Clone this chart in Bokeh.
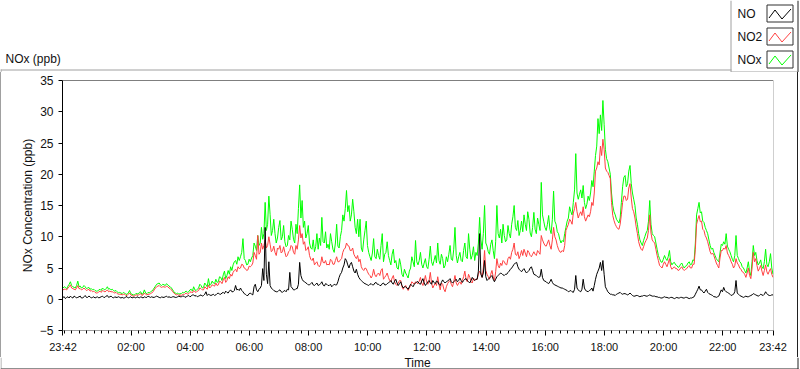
from bokeh.plotting import figure
from bokeh.models import Range1d, FixedTicker, Span, Spacer
from bokeh.layouts import column, row
from bokeh.core.properties import value
from bokeh.embed import file_html
from bokeh.resources import INLINE

# samples every 2.5 minutes after 23:42
minutes = [i * 2.5 for i in range(577)]

nox = [
    1.8, 2.0, 1.9, 1.7, 2.1, 2.4, 2.8, 2.2, 2.0, 1.9, 1.8, 2.2, 2.9, 2.0, 2.1, 1.8, 1.9, 2.2, 2.0, 1.7, 1.8, 1.9, 1.6, 1.7,
    1.5, 1.6, 1.4, 1.3, 1.3, 1.5, 1.6, 1.4, 1.8, 1.6, 1.5, 1.7, 2.0, 1.6, 1.7, 1.5, 1.6, 1.4, 1.3, 1.4, 1.2, 1.0, 1.1, 1.0,
    0.9, 1.1, 1.0, 0.8, 0.8, 1.0, 1.4, 0.9, 0.8, 0.7, 0.7, 0.9, 0.9, 0.8, 1.1, 1.2, 0.8, 0.9, 1.5, 1.0, 0.9, 1.1, 1.0, 1.2,
    1.3, 1.5, 1.8, 2.1, 2.4, 2.5, 2.6, 2.3, 2.2, 2.4, 2.3, 2.2, 2.5, 2.3, 2.1, 2.0, 1.8, 1.5, 1.2, 1.0, 0.9, 1.0, 0.8, 0.9,
    0.9, 1.1, 1.0, 1.2, 1.3, 1.1, 1.2, 1.5, 1.6, 1.3, 2.0, 1.5, 1.4, 1.6, 1.8, 2.4, 2.2, 1.8, 1.9, 2.6, 2.3, 2.0, 3.3, 2.2,
    2.4, 2.9, 2.6, 2.5, 3.2, 2.7, 2.8, 3.6, 3.5, 3.0, 3.9, 4.5, 3.3, 3.8, 4.6, 4.0, 5.2, 4.6, 5.5, 6.0, 6.2, 5.6, 6.8, 6.2,
    6.8, 7.5, 9.7, 6.5, 6.2, 5.5, 5.6, 6.4, 6.0, 6.6, 7.0, 9.0, 8.5, 7.8, 10.2, 8.6, 9.0, 11.5, 9.6, 10.5, 15.5, 11.0, 12.0, 16.5,
    13.6, 10.2, 11.0, 12.8, 10.5, 9.0, 9.8, 11.5, 12.6, 9.5, 10.0, 11.8, 9.2, 8.4, 8.6, 10.2, 9.5, 12.5, 11.2, 9.6, 9.0, 12.0, 10.5, 14.5,
    18.3, 13.0, 15.8, 11.5, 12.5, 9.8, 10.5, 11.8, 9.0, 8.2, 8.0, 9.5, 7.6, 8.4, 10.5, 8.0, 9.8, 8.6, 13.1, 9.2, 9.0, 10.8, 8.2, 8.8,
    8.0, 10.5, 9.2, 8.0, 7.5, 9.0, 12.0, 8.5, 8.2, 10.0, 11.0, 13.5, 12.5, 14.5, 17.4, 14.0, 15.0, 12.5, 13.5, 16.0, 14.0, 11.5, 10.5, 12.8,
    10.0, 12.8, 8.2, 7.6, 9.5, 11.0, 12.5, 8.6, 7.5, 6.8, 6.2, 7.4, 9.7, 6.8, 6.5, 8.0, 7.0, 6.4, 8.6, 10.5, 6.0, 7.2, 7.5, 9.2,
    7.0, 6.2, 5.5, 7.2, 8.0, 5.8, 6.2, 5.0, 4.8, 6.5, 5.5, 4.0, 3.6, 4.8, 4.2, 3.8, 3.4, 4.5, 5.0, 6.8, 6.0, 5.2, 9.4, 6.0,
    5.5, 6.2, 7.5, 5.6, 5.0, 5.8, 6.5, 5.2, 4.9, 6.4, 8.5, 6.0, 5.4, 6.2, 7.0, 5.8, 9.0, 6.2, 5.6, 7.2, 6.5, 5.0, 5.4, 6.8,
    6.0, 7.2, 8.6, 6.4, 6.2, 8.0, 11.5, 7.0, 5.8, 6.8, 7.5, 6.2, 6.0, 7.8, 9.0, 6.8, 6.5, 10.5, 8.0, 6.4, 7.0, 8.4, 6.2, 7.5,
    7.0, 9.0, 13.1, 9.5, 8.0, 10.5, 15.0, 9.0, 8.5, 7.6, 7.2, 8.8, 9.5, 7.8, 6.5, 9.2, 15.0, 10.5, 9.8, 11.2, 9.0, 12.0, 10.2, 9.2,
    9.5, 11.8, 10.5, 9.8, 12.0, 13.2, 15.0, 11.5, 11.0, 12.6, 10.2, 11.0, 12.5, 10.8, 13.5, 12.0, 11.0, 14.0, 12.8, 10.6, 10.0, 11.5, 13.9, 11.2,
    10.5, 13.0, 12.0, 11.0, 18.7, 13.5, 12.5, 11.5, 11.0, 12.0, 13.4, 11.2, 10.5, 12.8, 17.3, 12.5, 12.0, 10.8, 10.5, 9.6, 9.0, 9.4, 9.2, 10.5,
    11.5, 12.5, 13.0, 14.8, 14.0, 13.5, 15.5, 17.5, 23.3, 17.0, 16.0, 16.8, 17.5, 16.2, 18.2, 15.5, 14.5, 15.2, 16.5, 15.8, 17.0, 19.0, 18.0, 20.5,
    23.0, 24.5, 28.9, 26.5, 29.5, 27.0, 31.8, 28.0, 24.0, 22.5, 22.0, 21.0, 20.0, 17.0, 15.0, 14.0, 13.5, 12.8, 12.5, 12.2, 13.0, 15.5, 18.0, 19.5,
    19.8, 18.0, 18.5, 20.5, 21.4, 18.5, 17.0, 16.0, 15.0, 13.0, 12.0, 10.5, 9.5, 9.0, 8.6, 9.4, 10.0, 10.6, 11.0, 12.5, 15.8, 12.0, 10.5, 10.2,
    10.0, 9.0, 8.0, 7.0, 6.5, 6.0, 5.9, 6.4, 7.0, 6.5, 6.2, 6.8, 7.8, 6.0, 5.5, 5.8, 5.9, 5.5, 5.4, 5.1, 5.2, 5.6, 5.8, 5.3,
    5.0, 5.3, 5.4, 5.8, 6.0, 5.5, 5.6, 6.3, 6.2, 9.0, 13.5, 14.5, 15.5, 13.8, 14.0, 12.5, 12.3, 11.5, 11.0, 10.5, 9.5, 8.6, 8.0, 8.2,
    7.5, 7.0, 6.5, 6.2, 6.0, 7.4, 8.8, 8.6, 9.2, 8.8, 10.5, 8.5, 8.0, 7.6, 7.0, 6.4, 6.0, 7.0, 10.2, 7.0, 6.5, 6.0, 5.8, 5.2,
    5.0, 4.6, 4.2, 5.0, 6.0, 4.4, 3.8, 6.0, 8.6, 7.0, 7.5, 6.2, 5.5, 5.8, 6.3, 5.2, 4.9, 6.0, 8.0, 5.6, 5.2, 6.0, 7.3, 5.0,
    4.0,
]

no2 = [
    1.5, 1.6, 1.6, 1.5, 1.8, 2.0, 2.3, 1.8, 1.7, 1.6, 1.5, 1.8, 2.2, 1.7, 1.7, 1.5, 1.6, 1.8, 1.6, 1.4, 1.5, 1.6, 1.3, 1.4,
    1.2, 1.3, 1.1, 1.0, 1.0, 1.2, 1.3, 1.1, 1.4, 1.3, 1.2, 1.3, 1.5, 1.2, 1.3, 1.2, 1.2, 1.1, 1.0, 1.1, 0.9, 0.8, 0.8, 0.8,
    0.7, 0.8, 0.8, 0.6, 0.6, 0.8, 1.0, 0.7, 0.6, 0.5, 0.5, 0.7, 0.7, 0.6, 0.8, 0.9, 0.6, 0.7, 1.0, 0.8, 0.7, 0.8, 0.8, 0.9,
    1.0, 1.2, 1.5, 1.8, 2.0, 2.1, 2.2, 2.0, 1.9, 2.0, 2.0, 1.9, 2.1, 2.0, 1.8, 1.7, 1.5, 1.2, 1.0, 0.8, 0.7, 0.8, 0.6, 0.7,
    0.6, 0.8, 0.7, 0.9, 1.0, 0.8, 0.9, 1.1, 1.2, 1.0, 1.4, 1.2, 1.1, 1.3, 1.4, 1.8, 1.7, 1.5, 1.5, 2.0, 1.8, 1.6, 2.3, 1.8,
    2.0, 2.3, 2.2, 2.1, 2.6, 2.2, 2.3, 2.9, 2.8, 2.5, 3.1, 3.5, 2.7, 3.0, 3.6, 3.3, 4.0, 3.7, 4.3, 4.6, 4.8, 4.4, 5.2, 4.9,
    5.0, 5.6, 5.5, 5.0, 4.9, 4.6, 4.7, 5.3, 5.2, 5.4, 5.8, 7.5, 7.0, 6.4, 10.2, 7.2, 7.5, 9.0, 8.0, 8.6, 9.5, 8.2, 8.6, 10.0,
    8.8, 7.6, 7.8, 8.5, 7.5, 7.0, 8.2, 8.0, 8.6, 7.4, 7.6, 8.4, 7.5, 6.8, 7.0, 7.6, 7.8, 8.6, 8.4, 7.5, 7.2, 8.6, 8.0, 9.5,
    11.8, 9.8, 10.5, 8.8, 9.2, 7.8, 8.0, 8.4, 7.0, 6.4, 6.2, 6.6, 5.5, 5.8, 6.0, 5.4, 5.2, 5.6, 6.8, 5.9, 5.8, 6.2, 5.5, 5.6,
    5.5, 6.4, 6.2, 5.6, 5.6, 6.2, 6.8, 6.0, 6.0, 6.3, 6.5, 7.5, 8.0, 8.2, 9.0, 8.6, 8.5, 7.8, 7.8, 8.2, 7.2, 6.8, 6.5, 7.0,
    6.0, 6.4, 5.2, 4.8, 4.6, 5.0, 4.9, 4.4, 4.0, 3.8, 3.4, 3.8, 4.8, 3.9, 3.6, 4.0, 4.2, 3.8, 4.6, 4.9, 3.2, 3.5, 3.8, 4.2,
    3.5, 3.0, 2.8, 3.4, 3.8, 2.8, 2.4, 2.2, 2.6, 3.0, 3.0, 2.0, 1.6, 2.0, 2.2, 1.8, 1.4, 1.8, 2.2, 2.8, 2.6, 2.4, 2.8, 2.6,
    2.5, 2.9, 3.5, 2.6, 2.2, 2.9, 3.8, 2.8, 2.4, 3.0, 4.3, 2.6, 1.8, 2.2, 2.6, 2.2, 3.6, 2.4, 1.5, 2.6, 2.4, 1.6, 1.2, 2.0,
    2.5, 2.8, 3.0, 2.4, 2.0, 2.8, 3.8, 2.6, 2.2, 2.6, 2.8, 2.4, 3.0, 3.6, 4.5, 3.2, 2.8, 4.0, 3.5, 2.8, 2.6, 3.4, 3.0, 3.2,
    3.2, 4.0, 4.5, 4.2, 3.5, 5.0, 7.8, 4.6, 4.0, 3.6, 3.2, 4.0, 4.6, 3.6, 3.0, 4.4, 6.5, 5.4, 5.0, 5.8, 5.4, 6.2, 6.0, 5.6,
    5.5, 6.5, 6.8, 6.4, 7.5, 8.0, 9.0, 7.2, 7.0, 7.6, 6.5, 7.0, 7.8, 7.0, 8.0, 7.4, 6.8, 7.8, 7.5, 7.0, 6.8, 7.2, 7.6, 7.2,
    7.0, 7.8, 7.5, 7.2, 10.2, 9.5, 9.0, 8.6, 8.5, 9.0, 9.5, 8.6, 8.0, 9.5, 11.5, 10.0, 9.5, 8.6, 8.0, 7.6, 7.5, 7.8, 7.6, 8.6,
    11.0, 11.5, 12.0, 12.8, 12.5, 12.0, 13.8, 14.5, 15.5, 14.0, 13.0, 13.6, 14.0, 13.4, 14.8, 13.2, 12.5, 13.0, 13.5, 13.2, 14.0, 15.5, 15.0, 17.0,
    20.5, 21.0, 22.0, 21.5, 24.5, 23.0, 25.6, 24.0, 21.0, 20.5, 20.3, 19.8, 19.3, 15.5, 13.4, 12.6, 12.0, 11.6, 11.3, 11.2, 12.0, 13.6, 15.5, 16.5,
    16.5, 15.8, 16.0, 17.8, 18.5, 16.2, 14.5, 14.0, 13.0, 11.6, 10.5, 9.2, 8.5, 8.0, 7.8, 8.4, 9.0, 9.4, 9.8, 11.0, 13.5, 10.6, 9.5, 9.2,
    9.0, 8.0, 7.0, 6.2, 5.4, 5.2, 5.0, 5.6, 6.0, 5.6, 5.2, 5.8, 6.5, 5.2, 4.8, 5.0, 5.2, 4.9, 4.9, 4.6, 4.7, 5.0, 5.2, 4.8,
    4.6, 4.8, 4.9, 5.2, 5.4, 5.0, 5.0, 5.6, 5.6, 8.0, 12.0, 12.8, 13.4, 12.4, 12.5, 11.2, 11.0, 10.2, 9.8, 9.2, 8.4, 7.6, 7.2, 7.4,
    7.0, 6.4, 5.8, 5.4, 5.0, 6.6, 7.8, 7.8, 8.2, 8.0, 8.6, 7.4, 7.0, 6.6, 6.0, 5.6, 5.0, 5.4, 6.5, 5.8, 5.5, 5.0, 4.8, 4.4,
    4.3, 4.0, 3.5, 4.2, 5.0, 3.8, 3.3, 5.0, 7.5, 6.0, 6.5, 5.4, 4.5, 4.9, 5.4, 4.5, 3.8, 4.6, 5.5, 4.4, 4.0, 4.5, 4.9, 4.0,
    3.5,
]

no = [
    0.3, 0.4, 0.1, 0.3, 0.4, 0.2, 0.5, 0.3, 0.2, 0.5, 0.4, 0.2, 0.3, 0.4, 0.5, 0.2, 0.2, 0.4, 0.6, 0.3, 0.3, 0.5, 0.4, 0.2,
    0.3, 0.4, 0.2, 0.3, 0.4, 0.2, 0.3, 0.4, 0.5, 0.3, 0.3, 0.5, 0.6, 0.3, 0.4, 0.5, 0.3, 0.2, 0.4, 0.3, 0.3, 0.4, 0.3, 0.2,
    0.3, 0.2, 0.2, 0.4, 0.4, 0.2, 0.3, 0.4, 0.2, 0.3, 0.3, 0.2, 0.4, 0.3, 0.2, 0.4, 0.3, 0.2, 0.4, 0.3, 0.3, 0.5, 0.4, 0.3,
    0.4, 0.3, 0.3, 0.4, 0.5, 0.4, 0.3, 0.2, 0.4, 0.3, 0.3, 0.4, 0.5, 0.3, 0.4, 0.3, 0.3, 0.4, 0.4, 0.3, 0.3, 0.4, 0.5, 0.4,
    0.4, 0.5, 0.5, 0.3, 0.4, 0.5, 0.6, 0.4, 0.5, 0.7, 0.7, 0.5, 0.6, 0.4, 0.5, 0.6, 0.7, 0.5, 0.6, 0.8, 1.2, 0.6, 0.8, 0.7,
    0.6, 0.7, 0.8, 0.6, 0.7, 0.9, 1.0, 0.8, 0.8, 1.0, 1.1, 0.9, 1.3, 1.1, 1.0, 1.3, 1.5, 1.2, 1.2, 1.4, 2.2, 1.5, 1.6, 1.4,
    1.8, 1.4, 1.2, 0.9, 0.8, 0.6, 0.6, 0.9, 1.0, 0.8, 0.7, 2.0, 2.4, 1.5, 1.2, 1.6, 1.8, 2.2, 4.9, 3.0, 11.5, 4.0, 2.5, 6.0,
    2.2, 1.8, 1.6, 1.4, 1.3, 1.2, 1.2, 1.4, 1.5, 1.2, 1.1, 1.3, 1.4, 1.2, 1.6, 1.5, 4.3, 2.0, 1.8, 1.5, 1.5, 1.7, 1.7, 2.4,
    5.9, 3.8, 3.2, 2.9, 2.8, 2.6, 2.5, 2.3, 2.3, 2.5, 2.7, 2.3, 2.2, 2.4, 2.6, 2.2, 2.3, 2.5, 2.8, 2.3, 2.1, 2.5, 2.4, 2.2,
    2.2, 2.4, 2.0, 2.2, 2.4, 2.3, 2.3, 2.8, 3.5, 4.0, 4.3, 5.0, 5.5, 6.5, 6.2, 5.5, 5.0, 5.6, 5.9, 5.2, 4.5, 4.2, 4.8, 4.0,
    3.5, 3.2, 3.0, 2.8, 2.6, 2.5, 2.4, 2.3, 2.2, 2.4, 2.5, 2.3, 2.3, 2.6, 2.7, 2.4, 2.4, 2.2, 2.2, 2.5, 2.6, 2.3, 2.3, 2.5,
    2.6, 2.8, 3.0, 2.6, 2.4, 2.9, 3.2, 2.6, 2.2, 2.5, 2.8, 2.2, 1.8, 2.0, 2.0, 1.8, 1.6, 2.0, 2.4, 2.2, 2.0, 2.4, 2.6, 2.8,
    2.8, 2.5, 2.4, 2.9, 3.3, 2.6, 2.2, 2.5, 2.8, 3.0, 2.6, 2.4, 3.0, 2.7, 2.5, 2.9, 2.8, 2.4, 2.2, 2.7, 3.1, 2.8, 2.6, 2.8,
    2.9, 3.1, 3.3, 2.8, 2.6, 2.8, 3.0, 3.2, 2.8, 3.0, 3.4, 3.0, 2.7, 3.0, 3.2, 3.3, 3.0, 2.8, 2.6, 3.0, 3.5, 3.2, 3.0, 3.2,
    3.2, 4.5, 10.5, 4.0, 3.5, 4.2, 6.2, 3.6, 3.0, 3.2, 3.4, 3.6, 3.8, 3.2, 2.8, 3.2, 3.6, 3.8, 4.0, 4.2, 4.1, 3.9, 3.8, 4.0,
    4.0, 4.3, 4.5, 4.8, 5.0, 5.3, 5.6, 5.8, 5.9, 5.2, 4.8, 4.6, 4.4, 4.7, 4.9, 4.5, 4.2, 4.4, 4.6, 5.0, 5.2, 4.6, 4.0, 3.9,
    3.8, 3.6, 3.5, 3.6, 4.8, 3.5, 3.0, 2.9, 2.8, 2.6, 2.5, 2.8, 3.2, 2.7, 2.4, 2.3, 2.2, 2.1, 2.0, 1.9, 1.8, 1.8, 1.7, 1.6,
    1.5, 1.4, 1.2, 1.3, 1.4, 1.2, 1.1, 1.6, 3.8, 1.8, 1.5, 1.3, 1.2, 1.6, 3.2, 1.8, 1.4, 1.3, 1.2, 1.4, 1.5, 1.8, 1.3, 2.2,
    3.2, 4.0, 4.5, 5.0, 5.9, 4.6, 6.2, 4.0, 2.0, 1.6, 1.2, 1.0, 0.8, 0.8, 0.7, 0.7, 0.6, 0.8, 0.9, 1.0, 1.1, 0.9, 0.8, 0.9,
    0.9, 0.8, 0.7, 0.8, 1.0, 0.8, 0.6, 0.5, 0.5, 0.6, 0.6, 0.5, 0.4, 0.5, 0.5, 0.6, 0.6, 0.5, 0.5, 0.6, 0.7, 0.6, 0.5, 0.5,
    0.5, 0.4, 0.4, 0.3, 0.3, 0.2, 0.2, 0.3, 0.4, 0.3, 0.3, 0.2, 0.2, 0.3, 0.3, 0.2, 0.1, 0.2, 0.3, 0.2, 0.2, 0.3, 0.3, 0.2,
    0.2, 0.3, 0.3, 0.2, 0.1, 0.2, 0.2, 0.3, 0.4, 0.8, 1.2, 1.6, 2.1, 1.5, 1.5, 1.2, 1.0, 1.3, 1.6, 1.1, 0.9, 0.8, 0.7, 0.6,
    0.4, 0.4, 0.3, 0.4, 0.5, 1.0, 1.5, 1.2, 1.9, 1.4, 1.2, 1.1, 1.0, 0.8, 0.6, 0.7, 0.8, 1.2, 3.0, 1.0, 0.8, 0.6, 0.5, 0.4,
    0.3, 0.4, 0.5, 0.4, 0.4, 0.5, 0.6, 0.7, 0.9, 0.8, 0.7, 0.6, 0.5, 0.6, 0.8, 0.7, 0.6, 0.8, 1.2, 0.9, 0.7, 0.6, 0.6, 0.7,
    0.7,
]

x_major_ticks = [0, 138, 258, 378, 498, 618, 738, 858, 978, 1098, 1218, 1338, 1440]
x_major_labels = ["23:42", "02:00", "04:00", "06:00", "08:00", "10:00", "12:00",
                  "14:00", "16:00", "18:00", "20:00", "22:00", "23:42"]
x_minor_ticks = [m for m in range(3, 1441, 15) if m not in x_major_ticks]
y_ticks = [-5, 0, 5, 10, 15, 20, 25, 30, 35]

series_names = ["NO", "NO2", "NOx"]
series_colors = ["#000000", "#ff4040", "#00ff00"]

FONT = "Liberation Sans"
TXT = "#111111"
GREY = "#a0a0a0"
DARK = "#202020"

# ---------------- header strip: graph caption + legend ----------------
head = figure(width=800, height=72, x_range=Range1d(0, 800), y_range=Range1d(72, 0),
              x_axis_type=None, y_axis_type=None, output_backend="svg",
              toolbar_location=None, min_border=0)
head.outline_line_color = None
head.background_fill_color = "white"
head.border_fill_color = "white"

head.text(x=[5], y=[58], text=["NOx (ppb)"], text_font=value(FONT),
          text_font_size=value("12px"), text_color=TXT,
          text_baseline="middle", text_align="left")
head.segment(x0=[0, 0.5, 730.5, 730.5], y0=[69.5, 69, 0, 71.5],
             x1=[731, 0.5, 730.5, 797], y1=[69.5, 72, 72, 71.5],
             line_color=GREY, line_width=1)
head.segment(x0=[797.5], y0=[0], x1=[797.5], y1=[72], line_color=DARK, line_width=1)

row_tops = [4.5, 27.5, 50.5]
head.text(x=[737] * 3, y=[t + 8.5 for t in row_tops], text=series_names,
          text_font=value(FONT), text_font_size=value("12px"), text_color=TXT,
          text_baseline="middle", text_align="left")
head.quad(left=[766.5] * 3, right=[792.5] * 3, top=row_tops, bottom=[t + 17 for t in row_tops],
          fill_color="white", line_color="#303030", line_width=1)
head.multi_line(xs=[[768.5, 774.5, 781.5, 790.5]] * 3,
                ys=[[t + 13, t + 5, t + 14, t + 4] for t in row_tops],
                line_color=series_colors, line_width=1)

# ---------------- main chart ----------------
p = figure(width=796, height=285, x_range=Range1d(-1, 1441), y_range=Range1d(-5, 35),
           output_backend="svg", toolbar_location=None,
           min_border_left=61, min_border_right=24, min_border_top=8, min_border_bottom=27)
p.background_fill_color = "white"
p.border_fill_color = "white"
p.outline_line_color = None
p.grid.visible = False

xa = p.xaxis[0]
xa.ticker = FixedTicker(ticks=x_major_ticks, minor_ticks=x_minor_ticks)
xa.major_label_overrides = dict(zip(x_major_ticks, x_major_labels))
xa.axis_line_color = GREY
xa.major_tick_in = 0
xa.major_tick_out = 5
xa.minor_tick_in = 0
xa.minor_tick_out = 3
xa.major_tick_line_color = "#000000"
xa.minor_tick_line_color = "#000000"
xa.major_label_standoff = 5
xa.major_label_text_font_size = "11px"

ya = p.yaxis[0]
ya.ticker = FixedTicker(ticks=y_ticks, minor_ticks=[])
ya.axis_label = "NOx Concentration (ppb)"
ya.axis_label_standoff = 2
ya.axis_line_color = "#000000"
ya.major_tick_in = 0
ya.major_tick_out = 4
ya.major_tick_line_color = "#000000"
ya.major_label_standoff = 5
ya.major_label_text_font_size = "12px"

for ax in (xa, ya):
    ax.major_label_text_font = FONT
    ax.major_label_text_color = TXT
    ax.axis_label_text_font = FONT
    ax.axis_label_text_font_size = "12px"
    ax.axis_label_text_font_style = "normal"
    ax.axis_label_text_color = TXT

# data lines (NOx under NO2 under NO)
p.line(minutes, nox, line_color=series_colors[2], line_width=1)
p.line(minutes, no2, line_color=series_colors[1], line_width=1)
p.line(minutes, no, line_color=series_colors[0], line_width=1)

# plot area border: top black, right grey
p.add_layout(Span(location=35, dimension="width", line_color="#000000", line_width=1))
p.add_layout(Span(location=1441, dimension="height", line_color=GREY, line_width=1))

# ---------------- footer strip: x axis name + panel edges ----------------
foot = figure(width=800, height=12, x_range=Range1d(0, 800), y_range=Range1d(12, 0),
              x_axis_type=None, y_axis_type=None, output_backend="svg",
              toolbar_location=None, min_border=0)
foot.outline_line_color = None
foot.background_fill_color = "white"
foot.border_fill_color = "white"
foot.text(x=[417], y=[5.2], text=["Time"], text_font=value(FONT),
          text_font_size=value("12px"), text_color=TXT,
          text_baseline="middle", text_align="center")
foot.segment(x0=[0.5], y0=[0], x1=[0.5], y1=[11], line_color=GREY, line_width=1)
foot.segment(x0=[797.5, 0], y0=[0, 11.5], x1=[797.5, 798], y1=[11.5, 11.5],
             line_color=DARK, line_width=1)

left_edge = Spacer(width=1, height=285, styles={"background-color": GREY})
right_edge = Spacer(width=1, height=285, styles={"background-color": DARK})

layout = column(head, row(left_edge, p, right_edge), foot)

open("out.html", "w").write(file_html(layout, INLINE))
